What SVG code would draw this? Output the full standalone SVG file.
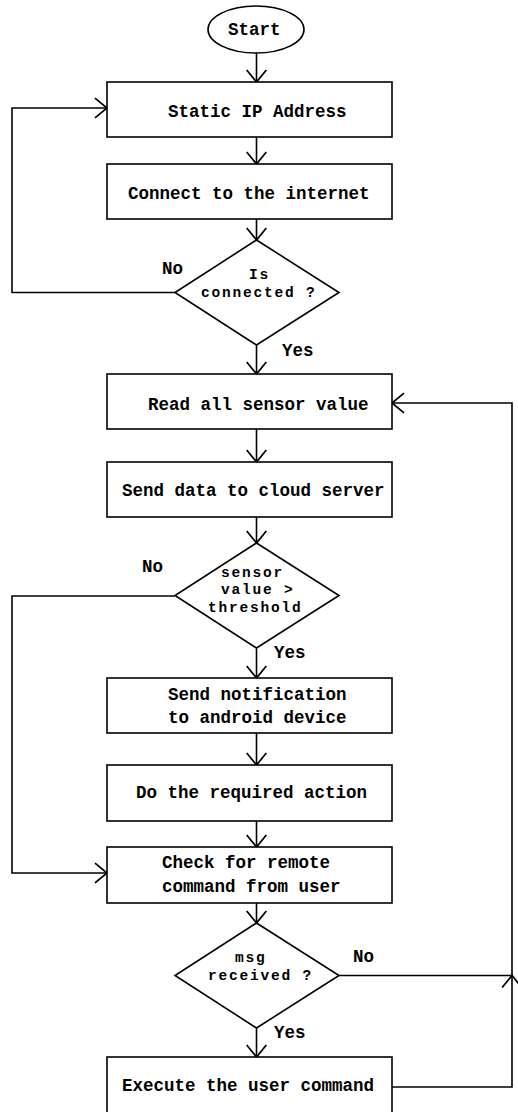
<svg xmlns="http://www.w3.org/2000/svg" width="518" height="1112" viewBox="0 0 518 1112">
<defs>
<style>
.shape{fill:#fff;stroke:#000;stroke-width:1.6}
.conn{fill:none;stroke:#000;stroke-width:1.6}
text{font-family:"Liberation Mono","DejaVu Sans Mono",monospace;font-size:17.5px;font-weight:bold;fill:#000}
text.d{font-size:14.5px;letter-spacing:1.8px}
</style>
<marker id="arr" markerUnits="userSpaceOnUse" markerWidth="20" markerHeight="24" viewBox="-13 -11 15 22" refX="0" refY="0" orient="auto">
<path d="M-11,-9 L0,0 L-11,9" fill="none" stroke="#000" stroke-width="1.6"/>
</marker>
</defs>
<rect width="518" height="1112" fill="#fff"/>
<g id="connectors">
<line class="conn" x1="256.5" y1="53" x2="256.5" y2="82" marker-end="url(#arr)"/>
<line class="conn" x1="256.5" y1="137" x2="256.5" y2="164" marker-end="url(#arr)"/>
<line class="conn" x1="256.5" y1="219" x2="256.5" y2="240" marker-end="url(#arr)"/>
<line class="conn" x1="256.5" y1="345" x2="256.5" y2="374" marker-end="url(#arr)"/>
<line class="conn" x1="256.5" y1="429" x2="256.5" y2="462" marker-end="url(#arr)"/>
<line class="conn" x1="256.5" y1="517" x2="256.5" y2="543" marker-end="url(#arr)"/>
<line class="conn" x1="256.5" y1="648" x2="256.5" y2="678" marker-end="url(#arr)"/>
<line class="conn" x1="256.5" y1="733" x2="256.5" y2="765" marker-end="url(#arr)"/>
<line class="conn" x1="256.5" y1="821" x2="256.5" y2="847" marker-end="url(#arr)"/>
<line class="conn" x1="256.5" y1="903" x2="256.5" y2="923" marker-end="url(#arr)"/>
<line class="conn" x1="256.5" y1="1028" x2="256.5" y2="1057" marker-end="url(#arr)"/>
<path class="conn" d="M175,292.5 H12 V108 H107" marker-end="url(#arr)"/>
<path class="conn" d="M175,596 H12 V873 H107" marker-end="url(#arr)"/>
<path class="conn" d="M339,975.5 H512 V403 H392" marker-end="url(#arr)"/>
<path class="conn" d="M392,1087 H512 V975.5" marker-end="url(#arr)"/>
</g>
<g id="start">
<ellipse class="shape" cx="256" cy="29.5" rx="48" ry="23.5"/>
<text x="228" y="35">Start</text>
</g>
<g id="static-ip">
<rect class="shape" x="107" y="82" width="285" height="55"/>
<text x="168" y="117">Static IP Address</text>
</g>
<g id="connect">
<rect class="shape" x="107" y="164" width="285" height="55"/>
<text x="128" y="199">Connect to the internet</text>
</g>
<g id="is-connected">
<polygon class="shape" points="256.5,240 339,292.5 256.5,345 175,292.5"/>
<text class="d" x="249" y="279">Is</text>
<text class="d" x="201" y="297">connected ?</text>
</g>
<g id="read-sensor">
<rect class="shape" x="107" y="374" width="285" height="55"/>
<text x="148" y="410">Read all sensor value</text>
</g>
<g id="send-data">
<rect class="shape" x="107" y="462" width="285" height="55"/>
<text x="122" y="496">Send data to cloud server</text>
</g>
<g id="threshold">
<polygon class="shape" points="256.5,543 339,595.5 256.5,648 175,595.5"/>
<text class="d" x="221" y="577">sensor</text>
<text class="d" x="221" y="594">value &gt;</text>
<text class="d" x="208" y="612">threshold</text>
</g>
<g id="notify">
<rect class="shape" x="107" y="678" width="285" height="55"/>
<text x="168" y="700">Send notification</text>
<text x="168" y="723">to android device</text>
</g>
<g id="action">
<rect class="shape" x="107" y="765" width="285" height="56"/>
<text x="136" y="798">Do the required action</text>
</g>
<g id="check-remote">
<rect class="shape" x="107" y="847" width="285" height="56"/>
<text x="162" y="868">Check for remote</text>
<text x="162" y="892">command from user</text>
</g>
<g id="msg-received">
<polygon class="shape" points="256.5,923 339,975.5 256.5,1028 175,975.5"/>
<text class="d" x="235" y="962">msg</text>
<text class="d" x="208" y="980">received ?</text>
</g>
<g id="execute">
<rect class="shape" x="107" y="1057" width="285" height="70"/>
<text x="122" y="1091">Execute the user command</text>
</g>
<g id="labels">
<text x="162" y="274">No</text>
<text x="282" y="356">Yes</text>
<text x="142" y="572">No</text>
<text x="274" y="658">Yes</text>
<text x="353" y="962">No</text>
<text x="274" y="1038">Yes</text>
</g>
</svg>
